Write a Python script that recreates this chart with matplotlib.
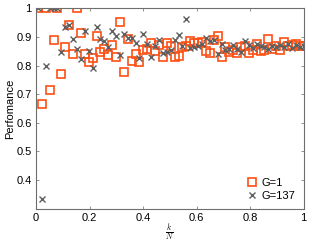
import numpy as np
import matplotlib
matplotlib.use("Agg")
import matplotlib.pyplot as plt

plt.rcParams['font.family'] = ['Liberation Sans', 'DejaVu Sans']
plt.rcParams['mathtext.fontset'] = 'cm'

# k odd, N = 137
N = 137
k = np.arange(1, N + 1, 2)

perf_g1 = [1.0, 0.667, 1.0, 0.714, 0.889, 1.0, 0.769, 0.865, 0.941, 0.841,
           1.0, 0.913, 0.841, 0.814, 0.827, 0.902, 0.848, 0.857, 0.838, 0.871,
           0.829, 0.952, 0.778, 0.892, 0.815, 0.842, 0.812, 0.855, 0.859, 0.880,
           0.852, 0.871, 0.830, 0.880, 0.869, 0.831, 0.833, 0.866, 0.869, 0.885,
           0.878, 0.880, 0.882, 0.852, 0.843, 0.889, 0.903, 0.831, 0.866, 0.848,
           0.855, 0.845, 0.866, 0.870, 0.845, 0.855, 0.876, 0.852, 0.855, 0.892,
           0.859, 0.869, 0.855, 0.882, 0.869, 0.871, 0.874, 0.869, 0.868]

perf_g137 = [1.0, 0.334, 0.800, 1.0, 1.0, 1.0, 0.847, 0.934, 0.940, 0.894,
             0.857, 0.824, 0.920, 0.850, 0.792, 0.935, 0.894, 0.885, 0.865, 0.920,
             0.903, 0.836, 0.910, 0.896, 0.898, 0.880, 0.827, 0.909, 0.876, 0.830,
             0.870, 0.889, 0.845, 0.849, 0.855, 0.890, 0.906, 0.869, 0.962, 0.862,
             0.864, 0.869, 0.876, 0.896, 0.887, 0.889, 0.839, 0.876, 0.855, 0.859,
             0.873, 0.859, 0.848, 0.887, 0.871, 0.862, 0.876, 0.869, 0.864, 0.859,
             0.869, 0.866, 0.871, 0.866, 0.876, 0.862, 0.871, 0.866, 0.869]

x = k / N

fig = plt.figure(figsize=(3.12, 2.42), dpi=100)
ax = fig.add_axes([0.1154, 0.1376, 0.8574, 0.8281])

ax.plot(x, perf_g1, 's', mfc='none', mec='#ff4f12', mew=1.2, ms=5.5, label='G=1')
ax.plot(x, perf_g137, 'x', color='#5f5f5f', mew=1.0, ms=4, label='G=137')

ax.set_xlim(0, 1)
ax.set_ylim(0.3, 1)
ax.set_xticks([0, 0.2, 0.4, 0.6, 0.8, 1])
ax.set_xticklabels(['0', '0.2', '0.4', '0.6', '0.8', '1'])
ax.set_yticks([0.4, 0.5, 0.6, 0.7, 0.8, 0.9, 1])
ax.set_yticklabels(['0.4', '0.5', '0.6', '0.7', '0.8', '0.9', '1'])
ax.tick_params(direction='in', top=True, right=True, length=2.5, width=0.6,
               color='#808080', labelsize=8, pad=3)
for s in ax.spines.values():
    s.set_color('#6e6e6e')
    s.set_linewidth(0.8)

ax.set_ylabel('Perfomance', fontsize=8, labelpad=1)
ax.set_xlabel(r'$\frac{k}{N}$', fontsize=8, labelpad=0)

ax.legend(loc='lower right', frameon=False, fontsize=8, handletextpad=0.3,
          handlelength=1.2, borderaxespad=0.3, labelspacing=0.3)

fig.savefig('out.png', dpi=100)
